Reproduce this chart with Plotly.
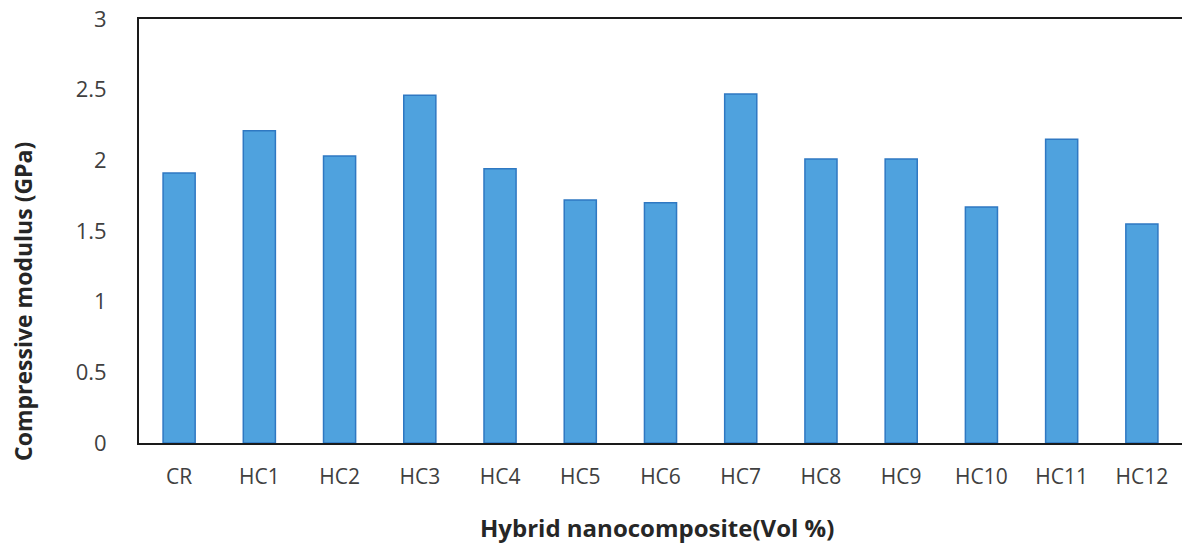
import plotly.graph_objects as go

categories = ["CR", "HC1", "HC2", "HC3", "HC4", "HC5", "HC6",
              "HC7", "HC8", "HC9", "HC10", "HC11", "HC12"]
modulus_gpa = [1.91, 2.21, 2.03, 2.46, 1.94, 1.72, 1.70,
               2.47, 2.01, 2.01, 1.67, 2.15, 1.55]
y_ticks = [0, 0.5, 1, 1.5, 2, 2.5, 3]

font_family = "Open Sans, Noto Sans, sans-serif"

fig = go.Figure(
    go.Bar(
        x=categories,
        y=modulus_gpa,
        marker=dict(color="#4fa2de", line=dict(color="#2f78c2", width=1.5)),
        width=0.4,
    )
)

fig.update_layout(
    width=1182,
    height=543,
    margin=dict(l=139, r=0, t=19, b=100),
    plot_bgcolor="white",
    paper_bgcolor="white",
    showlegend=False,
    font=dict(family=font_family, color="#404040", size=21),
)

fig.update_xaxes(
    showline=True,
    linecolor="#1a1a1a",
    linewidth=2,
    mirror=True,
    showgrid=False,
    ticks="",
    ticklabelstandoff=14,
    tickfont=dict(size=21, color="#404040"),
)

fig.update_yaxes(
    range=[0, 3],
    tickvals=y_ticks,
    ticktext=[f"{v:g}" for v in y_ticks],
    showline=True,
    linecolor="#1a1a1a",
    linewidth=2,
    showgrid=False,
    zeroline=False,
    ticks="",
    ticklabelstandoff=26,
    tickfont=dict(size=22, color="#404040"),
)

plot_w = 1182 - 139
plot_h = 543 - 19 - 100

fig.add_annotation(
    text="<b>Hybrid nanocomposite(Vol %)</b>",
    xref="paper", yref="paper",
    x=(657 - 139) / plot_w, y=-(527 - 443) / plot_h,
    xanchor="center", yanchor="middle",
    showarrow=False,
    font=dict(family=font_family, size=24, color="#262626"),
)

fig.add_annotation(
    text="<b>Compressive modulus (GPa)</b>",
    xref="paper", yref="paper",
    x=-(139 - 23) / plot_w, y=(443 - 302) / plot_h,
    xanchor="center", yanchor="middle",
    textangle=-90,
    showarrow=False,
    font=dict(family=font_family, size=23, color="#262626"),
)

fig.write_html("out.html")
